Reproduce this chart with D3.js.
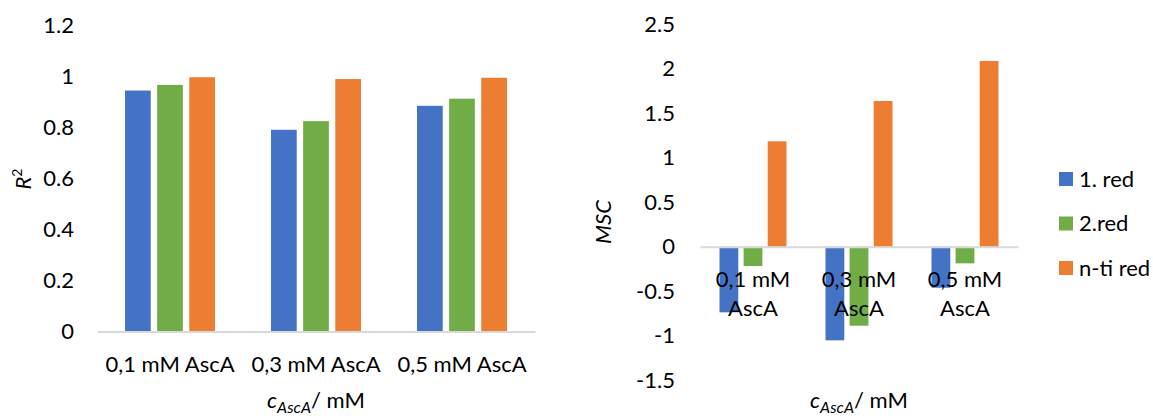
<!DOCTYPE html>
<html>
<head>
<meta charset="utf-8">
<script src="https://cdn.jsdelivr.net/npm/d3@7"></script>
<style>
  html, body { margin: 0; padding: 0; background: #fff; }
  svg { display: block; }
  text { font-family: Lato, "Open Sans", sans-serif; fill: #000; }
</style>
</head>
<body>
<svg id="chart" width="1153" height="416"></svg>
<script>
// ---------- data ----------
const categories = ["0,1 mM AscA", "0,3 mM AscA", "0,5 mM AscA"];
const categoryLines = [["0,1 mM", "AscA"], ["0,3 mM", "AscA"], ["0,5 mM", "AscA"]];
const seriesNames = ["1. red", "2.red", "n-ti red"];
const seriesColors = ["#4472C4", "#70AD47", "#ED7D31"];

const r2Red1 = [0.945, 0.791, 0.885];
const r2Red2 = [0.967, 0.825, 0.913];
const r2RedN = [0.997, 0.990, 0.995];

const mscRed1 = [-0.737, -1.052, -0.461];
const mscRed2 = [-0.217, -0.888, -0.187];
const mscRedN = [1.184, 1.637, 2.087];

const r2Ticks = [0, 0.2, 0.4, 0.6, 0.8, 1, 1.2];
const r2TickLabels = ["0", "0.2", "0.4", "0.6", "0.8", "1", "1.2"];
const mscTicks = [-1.5, -1, -0.5, 0, 0.5, 1, 1.5, 2, 2.5];
const mscTickLabels = ["-1.5", "-1", "-0.5", "0", "0.5", "1", "1.5", "2", "2.5"];

// ---------- setup ----------
const svg = d3.select("#chart");
svg.append("rect").attr("width", 1153).attr("height", 416).attr("fill", "#fff");
const FS = 22;

function buildRows(a, b, c) {
  return categories.map((cat, i) => ({ cat, vals: [a[i], b[i], c[i]] }));
}

function drawChart(opts) {
  const g = svg.append("g");
  const x0 = d3.scaleBand().domain(categories).range(opts.xRange).padding(0);
  const step = x0.bandwidth();
  const x1 = d3.scaleBand().domain(seriesNames)
    .range([opts.groupPad, step - opts.groupPad]).paddingInner(opts.barPad).paddingOuter(0);
  const y = d3.scaleLinear().domain(opts.yDomain).range(opts.yRange);
  const color = d3.scaleOrdinal().domain(seriesNames).range(seriesColors);
  const rows = buildRows(...opts.series);

  // bars
  const groups = g.selectAll("g.grp").data(rows).join("g")
    .attr("transform", d => `translate(${x0(d.cat)},0)`);
  groups.selectAll("rect").data(d => d.vals.map((v, i) => ({ name: seriesNames[i], v })))
    .join("rect")
    .attr("x", d => x1(d.name))
    .attr("width", x1.bandwidth())
    .attr("y", d => y(Math.max(0, d.v)))
    .attr("height", d => Math.abs(y(d.v) - y(0)))
    .attr("fill", d => color(d.name));

  // y axis (labels only)
  const yAxis = d3.axisLeft(y).tickValues(opts.ticks)
    .tickFormat((d, i) => opts.tickLabels[i]).tickSize(0).tickPadding(0);
  const ya = g.append("g").attr("transform", `translate(${opts.yLabelX},0)`).call(yAxis);
  ya.select(".domain").remove();
  ya.selectAll("text").attr("font-size", FS).attr("font-family", "Lato").attr("fill", "#000");

  // x axis line at zero
  const xAxis = d3.axisBottom(x0).tickSize(0).tickFormat("");
  const xa = g.append("g").attr("transform", `translate(0,${y(0)})`).call(xAxis);
  xa.select(".domain").attr("stroke", "#d9d9d9").attr("stroke-width", 2);

  // category labels
  if (opts.wrap) {
    const lab = g.append("g");
    categoryLines.forEach((lines, i) => {
      const t = lab.append("text").attr("text-anchor", "middle").attr("font-size", FS)
        .attr("x", x0(categories[i]) + step / 2);
      lines.forEach((ln, j) => t.append("tspan").attr("x", x0(categories[i]) + step / 2)
        .attr("y", opts.catY + j * 28.5).text(ln));
    });
  } else {
    g.append("g").selectAll("text").data(categories).join("text")
      .attr("x", d => x0(d) + step / 2).attr("y", opts.catY)
      .attr("text-anchor", "middle").attr("font-size", FS).text(d => d);
  }

  // x title
  const xt = g.append("text").attr("x", (opts.xRange[0] + opts.xRange[1]) / 2).attr("y", 408)
    .attr("text-anchor", "middle").attr("font-size", FS);
  xt.append("tspan").attr("font-style", "italic").text("c");
  xt.append("tspan").attr("font-style", "italic").attr("font-size", 16).attr("dy", 5).text("AscA");
  xt.append("tspan").attr("dy", -5).text("/ mM");

  // y title
  const yt = g.append("text").attr("transform", `translate(${opts.yTitle[0]},${opts.yTitle[1]}) rotate(-90)`)
    .attr("text-anchor", "middle").attr("font-size", FS);
  if (opts.yTitleSup) {
    yt.append("tspan").attr("font-style", "italic").text("R");
    yt.append("tspan").attr("font-size", 14).attr("dy", -9).text("2");
  } else {
    yt.attr("font-style", "italic").text(opts.yTitleText);
  }
}

drawChart({
  xRange: [97, 535], groupPad: 28, barPad: 0.2,
  yDomain: [0, 1.2], yRange: [331.5, 25.5],
  ticks: r2Ticks, tickLabels: r2TickLabels, yLabelX: 74,
  series: [r2Red1, r2Red2, r2RedN],
  wrap: false, catY: 372,
  yTitle: [31, 179], yTitleSup: true
});

drawChart({
  xRange: [700, 1018], groupPad: 19.5, barPad: 0.22,
  yDomain: [-1.5, 2.5], yRange: [380.2, 24.2],
  ticks: mscTicks, tickLabels: mscTickLabels, yLabelX: 675,
  series: [mscRed1, mscRed2, mscRedN],
  wrap: true, catY: 287,
  yTitle: [611, 222], yTitleSup: false, yTitleText: "MSC"
});

// legend
const legend = svg.append("g").attr("transform", "translate(1059,172)");
const li = legend.selectAll("g").data(seriesNames).join("g")
  .attr("transform", (d, i) => `translate(0,${i * 44.5})`);
li.append("rect").attr("width", 14).attr("height", 14).attr("fill", (d, i) => seriesColors[i]);
li.append("text").attr("x", 20).attr("y", 7).attr("dy", "0.35em").attr("font-size", FS).text(d => d);
</script>
</body>
</html>
